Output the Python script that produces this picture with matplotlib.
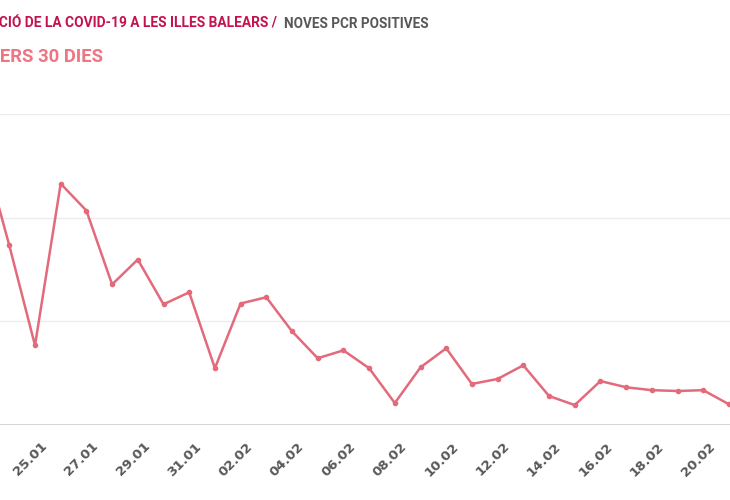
import numpy as np
import matplotlib.pyplot as plt
from matplotlib import transforms

# data
dates = ['23.01', '24.01', '25.01', '26.01', '27.01', '28.01', '29.01', '30.01',
         '31.01', '01.02', '02.02', '03.02', '04.02', '05.02', '06.02', '07.02',
         '08.02', '09.02', '10.02', '11.02', '12.02', '13.02', '14.02', '15.02',
         '16.02', '17.02', '18.02', '19.02', '20.02', '21.02']
pcr = [661, 433, 192, 582, 517, 339, 399, 291, 320, 137,
       293, 308, 226, 161, 180, 137, 53, 139, 185, 99,
       111, 144, 70, 48, 106, 91, 84, 82, 84, 50]
grid_vals = [0, 250, 500, 750]

line_col = '#e36a7b'
title_col = '#c4124f'
sub_col = '#ec7684'
grey = '#58585a'
fam = ['Liberation Sans Narrow', 'Roboto', 'DejaVu Sans']

W, H = 730, 500
fig = plt.figure(figsize=(W/100, H/100), dpi=100)
renderer = fig.canvas.get_renderer()

# axes placed so the view is cropped like the reference
step = 25.7
x0 = -16.4 - step          # pixel x of index -1
x1 = -16.4 + 29.5*step
ax = fig.add_axes([x0/W, (H-425)/H, (x1-x0)/W, (425-114)/H])
x = np.arange(len(pcr))
ax.plot(x, pcr, '-o', color=line_col, lw=1.8, ms=3, clip_on=False, zorder=3)
ax.set_xlim(-1, 29.5)
ax.set_ylim(0, 750)

for v in grid_vals[1:]:
    ax.axhline(v, color='#ececec', lw=1, zorder=0)
ax.axhline(0, color='#cccccc', lw=1.2, zorder=1)

for s in ax.spines.values():
    s.set_visible(False)
ax.set_yticks([])
ax.set_xticks(x[2::2])
ax.set_xticklabels(dates[2::2], rotation=45, ha='right', va='center',
                   rotation_mode='anchor', color=grey, fontsize=9.5,
                   fontweight='bold', family='DejaVu Sans')
ax.tick_params(axis='x', length=0, pad=14)
shift = transforms.ScaledTranslation(10/100, 0, fig.dpi_scale_trans)
for lab in ax.get_xticklabels():
    lab.set_transform(lab.get_transform() + shift)


def fit_size(txt, width_px, size):
    # font size that makes txt about width_px wide
    t = fig.text(0, 0, txt, fontsize=size, fontweight='bold', family=fam)
    w = t.get_window_extent(renderer).width
    t.remove()
    return size * width_px / w


# titles (cut on the left like the reference)
s1 = fit_size('CIÓ DE LA COVID-19 A LES ILLES BALEARS /', 277, 13)
fig.text(277/W, 1-28/H, 'EVOLUCIÓ DE LA COVID-19 A LES ILLES BALEARS /', ha='right',
         va='baseline', color=title_col, fontsize=s1, fontweight='bold', family=fam)
s2 = fit_size('NOVES PCR POSITIVES', 143, 13)
fig.text(284/W, 1-28/H, 'NOVES PCR POSITIVES', ha='left', va='baseline',
         color=grey, fontsize=s2, fontweight='bold', family=fam)
s3 = fit_size('ERS 30 DIES', 103, 20)
fig.text(103/W, 1-62/H, 'DARRERS 30 DIES', ha='right', va='baseline',
         color=sub_col, fontsize=s3, fontweight='bold', family=fam)

fig.savefig('out.png', dpi=100)
